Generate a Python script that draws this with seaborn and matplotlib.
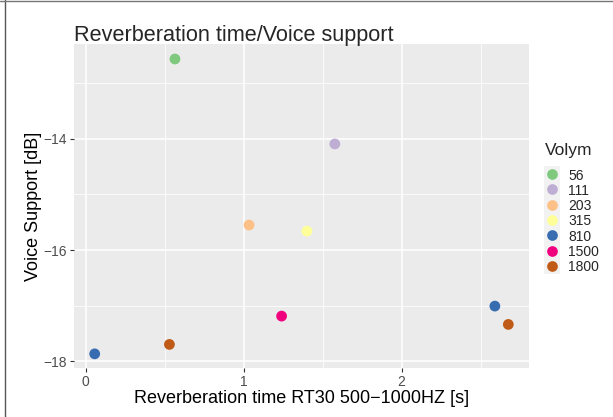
import matplotlib
matplotlib.use("Agg")
import matplotlib.pyplot as plt
import seaborn as sns
import pandas as pd
from matplotlib.lines import Line2D
from matplotlib.patches import Rectangle

volym = ["56", "111", "203", "315", "810", "810", "1500", "1800", "1800"]
rt30 = [0.565, 1.577, 1.034, 1.40, 0.057, 2.59, 1.24, 0.53, 2.675]
support = [-12.56, -14.09, -15.55, -15.66, -17.87, -17.01, -17.19, -17.70, -17.34]
levels = ["56", "111", "203", "315", "810", "1500", "1800"]
colors = ["#7FC97F", "#BEAED4", "#FDC086", "#FFFF99", "#386CB0", "#F0027F", "#BF5B17"]

df = pd.DataFrame({"Volym": volym, "RT30": rt30, "Support": support})

sns.set_style("darkgrid", {"axes.facecolor": "#EBEBEB", "grid.color": "white"})
plt.rcParams["font.family"] = ["Liberation Sans", "DejaVu Sans"]

W, H = 613, 417
fig = plt.figure(figsize=(W / 100, H / 100), dpi=100)
ax = fig.add_axes([74 / W, 1 - 368.3 / H, (529 - 74) / W, (368.3 - 44) / H])
pal = dict(zip(levels, colors))
sns.scatterplot(data=df, x="RT30", y="Support", hue="Volym", hue_order=levels,
                palette=pal, s=60, edgecolor="none", ax=ax, legend=False, zorder=3)

ax.set_xlim(-0.074, 2.806)
ax.set_ylim(-18.13, -12.29)
ax.set_xticks([0, 1, 2])
ax.set_yticks([-18, -16, -14])
ax.set_xticks([0.5, 1.5, 2.5], minor=True)
ax.set_yticks([-17, -15, -13], minor=True)
ax.grid(which="major", color="white", linewidth=1.1)
ax.grid(which="minor", color="white", linewidth=0.55)
ax.tick_params(which="major", length=3, color="#333333", labelsize=10, labelcolor="#4D4D4D",
               pad=2, left=True, bottom=True)
ax.tick_params(which="minor", length=0)
for sp in ax.spines.values():
    sp.set_visible(False)
ax.set_xticklabels(["0", "1", "2"])
ax.set_yticklabels(["\u221218", "\u221216", "\u221214"])
ax.set_xlabel("Reverberation time RT30 500\u22121000HZ [s]", fontsize=13, color="black",
              va="baseline")
ax.xaxis.set_label_coords(0.5, -(403 - 368.3) / (368.3 - 44))
ax.set_ylabel("Voice Support [dB]", fontsize=13, color="black", va="center")
ax.yaxis.set_label_coords((33 - 74) / (529 - 74), 0.5)

fig.text(74 / W, 1 - 41 / H, "Reverberation time/Voice support", fontsize=15.6,
         ha="left", va="baseline")

# legend
fig.text(545 / W, 1 - 155 / H, "Volym", fontsize=12.5, ha="left", va="baseline")
fig.patches.append(Rectangle((544 / W, 1 - 274 / H), 16 / W, 108 / H,
                             transform=fig.transFigure, facecolor="#F2F2F2",
                             edgecolor="none"))
for i, (lab, c) in enumerate(zip(levels, colors)):
    yc = 1 - (174 + 15.3 * i) / H
    fig.lines.append(Line2D([551.7 / W], [yc], transform=fig.transFigure, marker="o",
                            linestyle="", markersize=7.7, markerfacecolor=c,
                            markeredgecolor="none"))
    fig.text(568 / W, yc, lab, fontsize=10, ha="left", va="center_baseline")

# partial frame (left and top) as in the screenshot
fig.lines.append(Line2D([4.5 / W, 4.5 / W], [0, 1], transform=fig.transFigure,
                        color="#555555", linewidth=1))
fig.lines.append(Line2D([0, 1], [1 - 1 / H, 1 - 1 / H], transform=fig.transFigure,
                        color="#777777", linewidth=1))
fig.savefig("out.png", dpi=100, facecolor="white")
